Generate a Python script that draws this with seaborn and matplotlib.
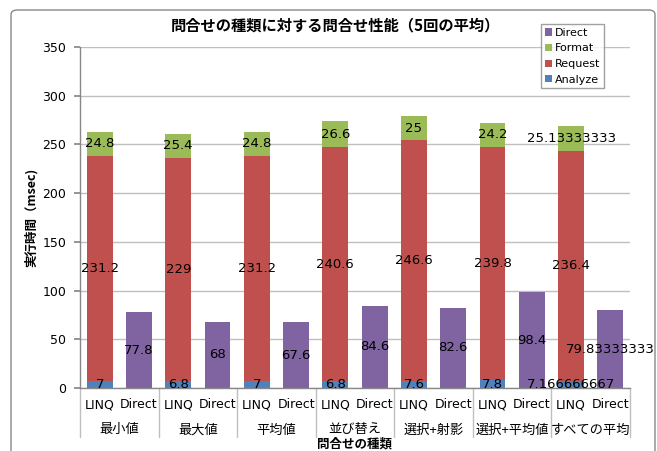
import matplotlib
matplotlib.use("Agg")
import matplotlib.pyplot as plt
import seaborn as sns
import pandas as pd
from matplotlib.patches import Patch, FancyBboxPatch
from matplotlib.lines import Line2D
import matplotlib.transforms as mtransforms

groups = ["最小値", "最大値", "平均値", "並び替え", "選択+射影", "選択+平均値", "すべての平均"]
bar_kinds = ["LINQ", "Direct"]
analyze = [7, 6.8, 7, 6.8, 7.6, 7.8, 7.166666667]
request = [231.2, 229, 231.2, 240.6, 246.6, 239.8, 236.4]
fmt = [24.8, 25.4, 24.8, 26.6, 25, 24.2, 25.13333333]
direct = [77.8, 68, 67.6, 84.6, 82.6, 98.4, 79.83333333]

colors = {"Analyze": "#4F81BD", "Request": "#C0504D", "Format": "#9BBB59", "Direct": "#8064A2"}

sns.set_theme(style="white")
plt.rcParams["font.family"] = ["DejaVu Sans", "Noto Sans CJK JP"]
plt.rcParams["text.color"] = "black"
plt.rcParams["axes.labelcolor"] = "black"
plt.rcParams["ytick.color"] = "black"
jp = ["Noto Sans CJK JP", "DejaVu Sans"]

slots = [f"{g}|{k}" for g in groups for k in bar_kinds]
linq_slots = [f"{g}|LINQ" for g in groups]
direct_slots = [f"{g}|Direct" for g in groups]

tot_linq = [a + r + f for a, r, f in zip(analyze, request, fmt)]
ar = [a + r for a, r in zip(analyze, request)]

fig = plt.figure(figsize=(6.57, 4.51), dpi=100)
ax = fig.add_axes([80 / 657, 1 - 388 / 451, 550 / 657, 341 / 451])

W = 0.66
layers = [
    (linq_slots, tot_linq, colors["Format"]),
    (linq_slots, ar, colors["Request"]),
    (linq_slots, analyze, colors["Analyze"]),
    (direct_slots, direct, colors["Direct"]),
]
for sl, h, c in layers:
    df = pd.DataFrame({"slot": sl, "h": h})
    sns.barplot(data=df, x="slot", y="h", order=slots, color=c, saturation=1,
                width=W, ax=ax, linewidth=0)

ax.set_xlim(-0.5, len(slots) - 0.5)
ax.set_ylim(0, 350)
ax.set_yticks(range(0, 351, 50))
ax.tick_params(axis="y", labelsize=9, length=4, color="#888888", labelcolor="black",
               direction="out", left=True, pad=6)
ax.set_xticks([])
ax.set_xlabel("")
ax.set_ylabel("実行時間（msec)", fontsize=9, fontweight="bold", family=jp, labelpad=3)
ax.yaxis.grid(True, color="#BFBFBF", linewidth=1)
ax.set_axisbelow(True)
for s in ["top", "right"]:
    ax.spines[s].set_visible(False)
for s in ["left", "bottom"]:
    ax.spines[s].set_color("#888888")
    ax.spines[s].set_linewidth(1)

def fmtv(v):
    s = f"{v:.10g}"
    if "." in s:
        ip, dp = s.split(".")
        if len(ip) + len(dp) > 10:
            s = f"{v:.{max(0, 10 - len(ip))}f}"
    return s

# data labels
for i in range(len(groups)):
    xl = 2 * i
    xd = 2 * i + 1
    ax.text(xl, analyze[i] / 2, fmtv(analyze[i]), ha="center", va="center", fontsize=9.5)
    ax.text(xl, analyze[i] + request[i] / 2, fmtv(request[i]), ha="center", va="center", fontsize=9.5)
    ax.text(xl, ar[i] + fmt[i] / 2, fmtv(fmt[i]), ha="center", va="center", fontsize=9.5)
    ax.text(xd, direct[i] / 2, fmtv(direct[i]), ha="center", va="center", fontsize=9.5)

# category axis labels
trans = mtransforms.blended_transform_factory(ax.transData, ax.transAxes)
for j, s in enumerate(slots):
    ax.text(j, -17 / 341, s.split("|")[1], transform=trans, ha="center", va="center",
            fontsize=9, clip_on=False)
for i, g in enumerate(groups):
    ax.text(2 * i + 0.5, -42 / 341, g, transform=trans, ha="center", va="center",
            fontsize=9.5, family=jp, clip_on=False)
for k in range(len(groups) + 1):
    x = 2 * k - 0.5
    ax.add_line(Line2D([x, x], [0, -49 / 341], transform=trans, color="#BFBFBF",
                       linewidth=1, clip_on=False))

fig.text(355 / 657, 1 - 444 / 451, "問合せの種類", ha="center", va="center",
         fontsize=9, fontweight="bold", family=jp)
fig.text(335 / 657, 1 - 25 / 451, "問合せの種類に対する問合せ性能（5回の平均）", ha="center",
         va="center", fontsize=11, fontweight="bold", family=jp)

handles = [Patch(facecolor=colors[k], edgecolor="none", label=k)
           for k in ["Direct", "Format", "Request", "Analyze"]]
leg = fig.legend(handles=handles, loc="upper left", bbox_to_anchor=(541 / 657, 1 - 24 / 451),
                 fontsize=8, frameon=True, fancybox=False, handlelength=0.6, handleheight=0.6,
                 handletextpad=0.3, labelspacing=0.5, borderpad=0.35, borderaxespad=0)
leg.get_frame().set_edgecolor("#888888")
leg.get_frame().set_linewidth(1)

frame = FancyBboxPatch((11 / 657, -0.05), (655 - 11) / 657, (1 - 10 / 451) + 0.05,
                       boxstyle="round,pad=0,rounding_size=0.01", transform=fig.transFigure,
                       facecolor="none", edgecolor="#888888", linewidth=1, clip_on=False)
fig.patches.append(frame)

fig.savefig("out.png", dpi=100)
